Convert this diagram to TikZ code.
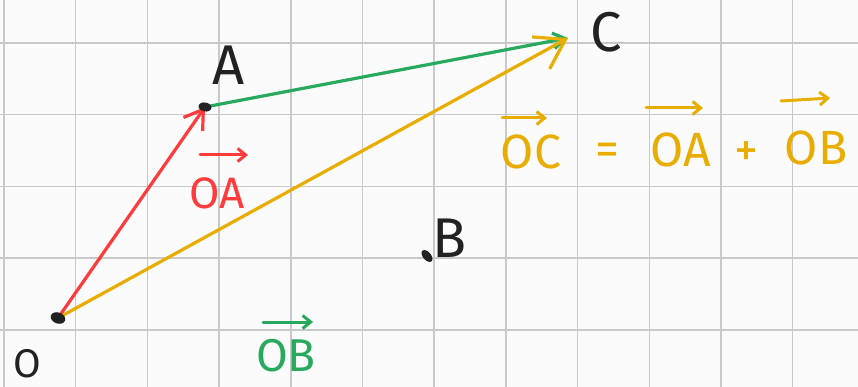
\documentclass[tikz,border=0pt]{standalone}
\usepackage{fontspec}
\setmainfont{Fira Sans}
\usetikzlibrary{arrows.meta,shapes.geometric}
\definecolor{gridc}{HTML}{C9C9C9}
\definecolor{vred}{HTML}{FF3B3B}
\definecolor{vgreen}{HTML}{27AA5E}
\definecolor{vorange}{HTML}{E9AD00}
\definecolor{ink}{HTML}{222222}
\begin{document}
\begin{tikzpicture}[x=1pt,y=-1pt,
  gridline/.style={gridc,line width=1.5pt},
  pointdot/.style={ellipse,fill=ink,inner sep=0pt,minimum width=15pt,minimum height=11pt},
  vecline/.style={line width=3.2pt,line cap=round},
  barb/.style={-{Straight Barb[length=#1,width=1.3*#1,line width=3.2pt]}},
  ptlabel/.style={text=ink,font=\fontsize{56}{56}\selectfont,inner sep=0pt},
  veclabel/.style={font=\fontsize{48}{48}\selectfont,inner sep=0pt},
  overarrow/.style={line width=3pt,line cap=round,-{Straight Barb[length=8pt,width=13pt,line width=3pt]}}
]
\fill[white!98.5!black] (0,0) rectangle (858,387);
\useasboundingbox (0,0) rectangle (858,387);
% grid
\foreach \gx in {4,75.7,147.4,219.1,290.8,362.5,434.2,505.9,577.6,649.3,721,792.7}
  \draw[gridline] (\gx,0) -- (\gx,387);
\foreach \gy in {43,114.7,186.4,258.1,329.8}
  \draw[gridline] (0,\gy) -- (858,\gy);
% points
\coordinate (O) at (58,318);
\coordinate (A) at (205,107);
\coordinate (C) at (568,38);
\node[pointdot,minimum width=14pt,minimum height=8pt,rotate=-50] (B) at (427,256) {};
% vectors
\draw[vecline,vred,barb=18pt] (O) -- (A);
\draw[vecline,vgreen,barb=12pt] (A) -- (C);
\draw[vecline,vorange,barb=28pt] (O) -- (C);
\node[pointdot,rotate=-20] (Odot) at (O) {};
\node[pointdot,minimum width=13pt,minimum height=9pt,rotate=-10] (Adot) at (A) {};
% point labels
\node[ptlabel] (labA) at (229,65) {A};
\node[ptlabel] (labC) at (606,32) {C};
\node[ptlabel] (labB) at (450,238) {B};
\node[ptlabel,font=\fontsize{40}{40}\selectfont] (labO) at (27,364) {O};
% vector labels
\node[veclabel,vred,font=\fontsize{44}{44}\selectfont] (vOA) at (217,193) {OA};
\draw[overarrow,vred] (200,155) -- (248,155);
\node[veclabel,vgreen,font=\fontsize{46}{46}\selectfont] (vOB) at (286,356) {OB};
\draw[overarrow,vgreen] (263,322) -- (313,322);
% equation
\node[veclabel,vorange] (eOC) at (531,152) {OC};
\draw[overarrow,vorange] (502,118) -- (547,118);
\node[veclabel,vorange] (eeq) at (607,154) {=};
\node[veclabel,vorange] (eOA) at (681,150) {OA};
\draw[overarrow,vorange] (646,108) -- (703,108);
\node[veclabel,vorange] (eplus) at (746,154) {+};
\node[veclabel,vorange] (eOB) at (816,148) {OB};
\draw[overarrow,vorange] (781,101) -- (830,98);
\end{tikzpicture}
\end{document}
